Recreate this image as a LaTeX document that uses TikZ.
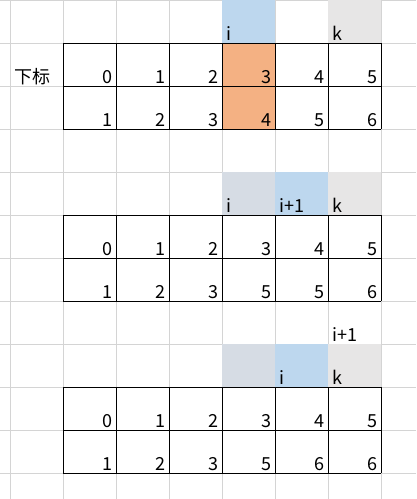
\documentclass[tikz,border=0pt]{standalone}
\usepackage{fontspec}
\setmainfont{Noto Sans CJK SC}
\definecolor{gridc}{HTML}{D4D4D4}
\definecolor{hblue}{HTML}{BDD7EE}
\definecolor{hgray}{HTML}{E7E6E6}
\definecolor{hslate}{HTML}{D6DCE4}
\definecolor{horange}{HTML}{F4B183}
\tikzset{
  num/.style={anchor=base east, inner sep=0pt, font=\fontsize{18}{20}\selectfont},
  lab/.style={anchor=base west, inner sep=0pt, font=\fontsize{18}{20}\selectfont},
  gridline/.style={draw=gridc, line width=1pt},
  tableline/.style={draw=black, line width=1pt},
}
\begin{document}
\begin{tikzpicture}[x=1pt,y=-1pt]
\useasboundingbox (0,0) rectangle (416,499);
\fill[white] (0,0) rectangle (416,499);
% spreadsheet gridlines
\foreach \k in {0,...,11} \draw[gridline] (0,{0.8+43*\k}) -- (416,{0.8+43*\k});
\foreach \x in {10.7,63.3,116.3,169.3,222.3,275.3,328.3,381.3} \draw[gridline] (\x,0) -- (\x,499);
% fills table 1
\fill[hblue] (222.3,0) rectangle (275.3,43.3);
\fill[hgray] (328.3,0) rectangle (381.3,43.3);
\fill[horange] (222.3,43.3) rectangle (275.3,129.3);
% fills table 2
\fill[hslate] (222.3,172.3) rectangle (275.3,215.3);
\fill[hblue] (275.3,172.3) rectangle (328.3,215.3);
\fill[hgray] (328.3,172.3) rectangle (381.3,215.3);
% fills table 3
\fill[hslate] (222.3,344.3) rectangle (275.3,387.3);
\fill[hblue] (275.3,344.3) rectangle (328.3,387.3);
\fill[hgray] (328.3,344.3) rectangle (381.3,387.3);
% table borders
\foreach \top in {43.3,215.3,387.3}{
  \foreach \k in {0,1,2} \draw[tableline] (63.3,{\top+43*\k}) -- (381.3,{\top+43*\k});
  \foreach \x in {63.3,116.3,169.3,222.3,275.3,328.3,381.3} \draw[tableline] (\x,\top) -- (\x,{\top+86});
}
% label
\node[lab] (xb) at (14.5,83.5) {下标};
% header labels
\node[lab] (i1) at (226.3,40.3) {i};
\node[lab] (k1) at (332.3,40.3) {k};
\node[lab] (i2) at (226.3,212.3) {i};
\node[lab] (ip2) at (279.3,212.3) {i+1};
\node[lab] (k2) at (332.3,212.3) {k};
\node[lab] (ip3) at (332.3,341.3) {i+1};
\node[lab] (i3) at (279.3,384.3) {i};
\node[lab] (k3) at (332.3,384.3) {k};
% numbers
\foreach \t/\top/\vals in {a/43.3/{1,2,3,4,5,6}, b/215.3/{1,2,3,5,5,6}, c/387.3/{1,2,3,5,6,6}}{
  \foreach \v [count=\c from 0] in {0,1,2,3,4,5}
    \node[num] (\t0\c) at ({116.3+53*\c-3.5},{\top+43-3}) {\v};
  \foreach \v [count=\c from 0] in \vals
    \node[num] (\t1\c) at ({116.3+53*\c-3.5},{\top+86-3}) {\v};
}
\end{tikzpicture}
\end{document}
